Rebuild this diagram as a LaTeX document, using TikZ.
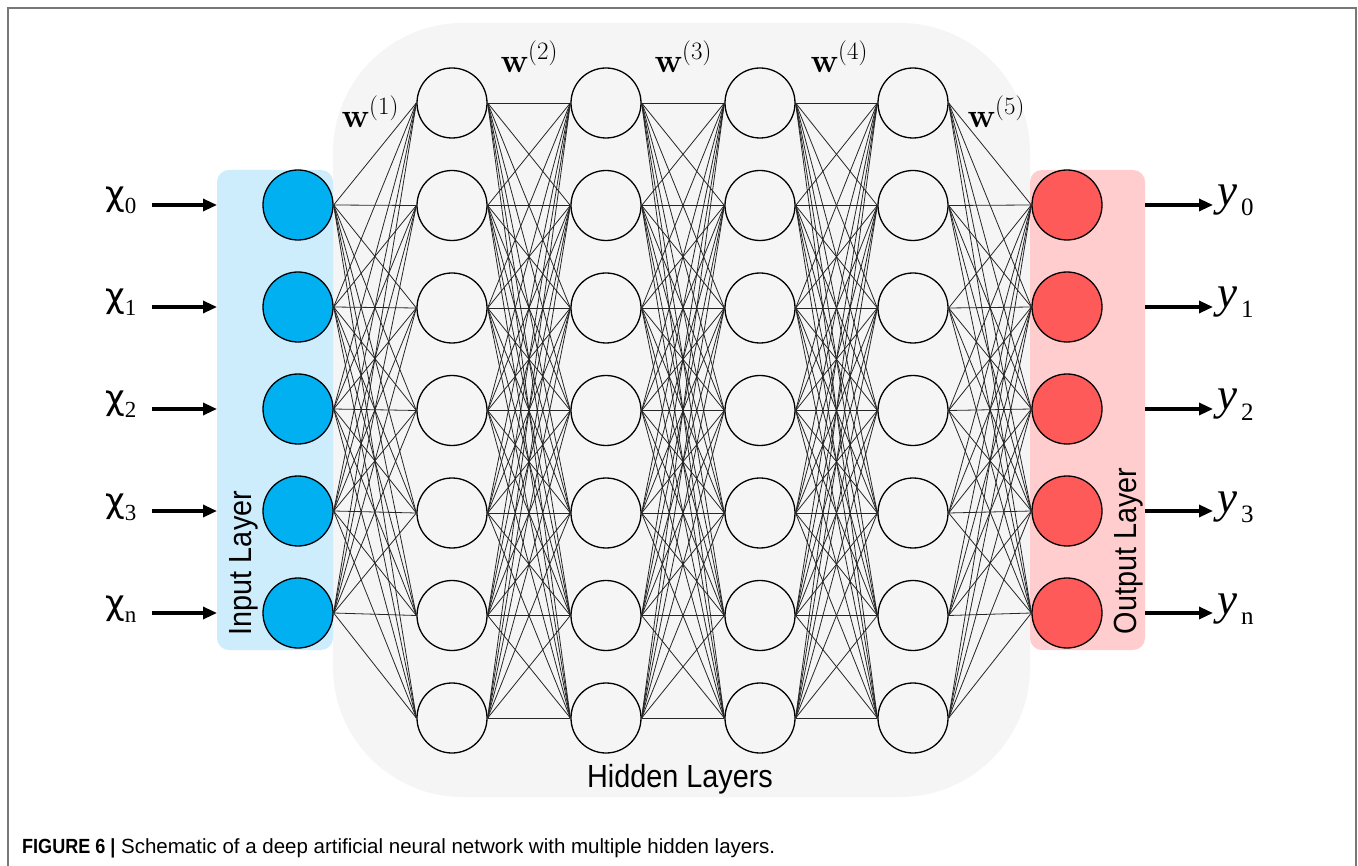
\documentclass[tikz,border=0pt]{standalone}
\usepackage{fontspec}
\setmainfont{Liberation Sans}
\newfontfamily\labfont[FakeStretch=0.9]{Liberation Sans}
\newfontfamily\capbold[FakeStretch=0.88]{Liberation Sans}
\newfontfamily\chifont{DejaVu Sans}
\newfontfamily\serifreg{Liberation Serif}
\newfontfamily\lmfont{Latin Modern Roman}
\usetikzlibrary{arrows.meta}
\definecolor{inblue}{RGB}{0,176,240}
\definecolor{inbg}{RGB}{205,236,252}
\definecolor{outred}{RGB}{255,90,90}
\definecolor{outbg}{RGB}{255,205,205}
\definecolor{hidbg}{RGB}{245,245,245}
\definecolor{framegray}{RGB}{120,120,120}
\tikzset{
  neuron/.style={circle, draw=black, line width=1.3pt, minimum size=70pt, inner sep=0pt},
  innode/.style={neuron, fill=inblue},
  hidnode/.style={neuron, fill=hidbg},
  outnode/.style={neuron, fill=outred},
  conn/.style={draw=black!85, line width=0.8pt},
  bigarrow/.style={line width=3.2pt, -{Triangle[length=14pt,width=12pt]}},
  chilabel/.style={anchor=base west, inner sep=0pt},
  wlabel/.style={anchor=base, inner sep=0pt},
}
\newcommand{\chilab}[1]{{\chifont\fontsize{34}{34}\selectfont χ}\raisebox{-8pt}{\serifreg\fontsize{23}{23}\selectfont #1}}
\newcommand{\ylab}[1]{{\serifreg\itshape\fontsize{45}{45}\selectfont y}\hspace{4pt}\raisebox{-10pt}{\serifreg\fontsize{25}{25}\selectfont #1}}
\newcommand{\wlab}[1]{{\lmfont\bfseries\fontsize{34}{34}\selectfont w}\raisebox{13pt}{\lmfont\fontsize{25}{25}\selectfont(#1)}}
\begin{document}
\begin{tikzpicture}[x=1pt,y=-1pt]
\useasboundingbox (0,0) rectangle (1358,866);
\fill[white] (0,0) rectangle (1358,866);
% frame
\draw[framegray, line width=2pt] (8,866) -- (8,8) -- (1356,8) -- (1356,866);
% backgrounds
\fill[hidbg, rounded corners=130pt] (333,23) rectangle (1030,797);
\fill[inbg, rounded corners=12pt] (217,170) rectangle (333,650);
\fill[outbg, rounded corners=12pt] (1030,170) rectangle (1145,650);
% nodes
\foreach \i in {0,...,4} {
  \node[innode] (I\i) at (298,205+102*\i) {};
  \node[outnode] (O\i) at (1067,205+102*\i) {};
}
\foreach \l/\x in {1/452,2/606,3/760,4/913} {
  \foreach \j in {0,...,6} {
    \node[hidnode] (H\l-\j) at (\x,103+102.5*\j) {};
  }
}
% connections
\foreach \i in {0,...,4} {
  \foreach \j in {0,...,6} {
    \draw[conn] (I\i.east) -- (H1-\j.west);
    \draw[conn] (H4-\j.east) -- (O\i.west);
  }
}
\foreach \l/\m in {1/2,2/3,3/4} {
  \foreach \i in {0,...,6} {
    \foreach \j in {0,...,6} {
      \draw[conn] (H\l-\i.east) -- (H\m-\j.west);
    }
  }
}
% input / output labels and arrows
\foreach \i/\s in {0/0,1/1,2/2,3/3,4/n} {
  \node[chilabel] (x\i) at (105,206+102*\i) {\chilab{\s}};
  \coordinate (as\i) at (152,205+102*\i);
  \coordinate (ae\i) at (217,205+102*\i);
  \draw[bigarrow] (as\i) -- (ae\i);
  \node[chilabel] (y\i) at (1217,206+102*\i) {\ylab{\s}};
  \coordinate (bs\i) at (1145,205+102*\i);
  \coordinate (be\i) at (1213,205+102*\i);
  \draw[bigarrow] (bs\i) -- (be\i);
}
% weight labels
\node[wlabel] (w1) at (370,128) {\wlab{1}};
\node[wlabel] (w2) at (529,73) {\wlab{2}};
\node[wlabel] (w3) at (683,73) {\wlab{3}};
\node[wlabel] (w4) at (839,73) {\wlab{4}};
\node[wlabel] (w5) at (996,128) {\wlab{5}};
% layer labels
\node[anchor=base, inner sep=0pt] (hl) at (680,787) {\labfont\fontsize{32}{32}\selectfont Hidden Layers};
\node[anchor=base, inner sep=0pt, rotate=90] (il) at (251,563) {\labfont\fontsize{32}{32}\selectfont Input Layer};
\node[anchor=base, inner sep=0pt, rotate=90] (ol) at (1136,551) {\labfont\fontsize{32}{32}\selectfont Output Layer};
% caption
\node[anchor=base west, inner sep=0pt] (cap) at (22,853) {\fontsize{20.5}{20.5}\selectfont{\capbold\bfseries FIGURE 6 |} Schematic of a deep artificial neural network with multiple hidden layers.};
\end{tikzpicture}
\end{document}
